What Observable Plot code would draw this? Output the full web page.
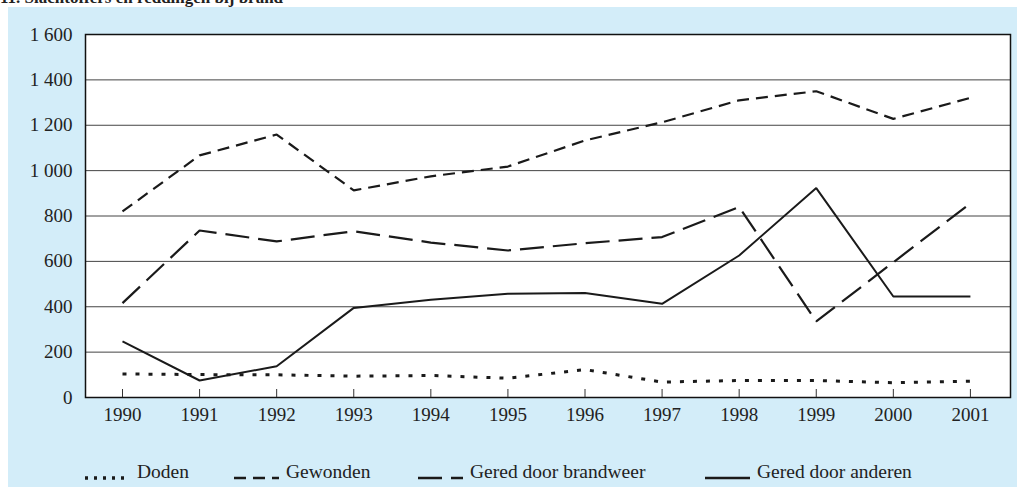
<!DOCTYPE html>
<html><head><meta charset="utf-8">
<script src="https://cdn.jsdelivr.net/npm/d3@7"></script>
<script src="https://cdn.jsdelivr.net/npm/@observablehq/plot@0.6"></script>
<style>
body{margin:0;background:#fff;font-family:"Liberation Serif",serif;color:#222;}
#wrap{position:relative;width:1017px;height:487px;overflow:hidden;}
#panel{position:absolute;left:8px;top:7px;width:1009px;height:480px;background:#d3edf9;}
#title{position:absolute;left:0;top:-12px;line-height:20px;font-weight:bold;font-size:17px;white-space:nowrap;}
#chart{position:absolute;left:0;top:0;}
.item{position:absolute;top:461px;height:22px;display:flex;align-items:center;font-size:19.5px;white-space:nowrap;}
.item svg{margin-right:7px;}
</style></head>
<body>
<div id="wrap">
  <div id="panel"></div>
  <div id="title">11. Slachtoffers en reddingen bij brand</div>
  <div id="chart"></div>
  <div id="legend"></div>
</div>
<script>
const years = [1990,1991,1992,1993,1994,1995,1996,1997,1998,1999,2000,2001];
const doden = [104,101,100,94,97,85,123,68,75,75,65,72];
const gewonden = [820,1067,1159,913,975,1018,1133,1213,1310,1350,1228,1321];
const geredBrandweer = [416,736,688,733,683,648,680,707,840,335,596,856];
const geredAnderen = [247,75,138,395,431,457,461,413,626,923,445,445];
const yTicks = [0,200,400,600,800,1000,1200,1400,1600];

const seriesInfo = [
  {name:"Doden", values:doden, dash:"4,9", width:3},
  {name:"Gewonden", values:gewonden, dash:"12,7", width:2.2},
  {name:"Gered door brandweer", values:geredBrandweer, dash:"24,9", width:2.2},
  {name:"Gered door anderen", values:geredAnderen, dash:null, width:2}
];
const legendLeft = [85,234,418,705];

const fmt = d => d3.format(",")(d).replace(/,/g, " ");

const marks = [
  Plot.frame({fill:"white", stroke:"none"}),
  Plot.ruleY(yTicks.slice(1,-1), {stroke:"#444", strokeWidth:1}),
  Plot.frame({stroke:"#111", strokeWidth:1.5}),
  Plot.axisY({ticks:yTicks, tickSize:0, tickPadding:13, tickFormat:fmt, fontSize:19, label:null}),
  Plot.axisX({ticks:years, tickSize:8, dy:-8, tickFormat:()=>"", stroke:"#333", label:null}),
  Plot.axisX({ticks:years, tickSize:0, tickPadding:10, tickFormat:d=>String(d), fontSize:19, label:null})
];
for (const s of seriesInfo) {
  const data = years.map((y,i)=>({year:y, value:s.values[i]}));
  marks.push(Plot.line(data, {x:"year", y:"value", stroke:"#1a1a1a", strokeWidth:s.width, strokeDasharray:s.dash ?? undefined, strokeLinecap:"butt", strokeLinejoin:"miter"}));
}

const chart = Plot.plot({
  width:1017, height:487,
  marginLeft:85, marginRight:7, marginTop:34, marginBottom:90,
  style:{background:"transparent", fontFamily:"'Liberation Serif', serif", fontSize:"19px", color:"#222"},
  x:{domain:[1989.52, 2001.52], axis:null, label:null},
  y:{domain:[0,1600], axis:null, label:null},
  marks
});
document.getElementById("chart").appendChild(chart);

const legend = document.getElementById("legend");
seriesInfo.forEach((s,i)=>{
  const div = document.createElement("div");
  div.className = "item";
  div.style.left = legendLeft[i] + "px";
  const ns = "http://www.w3.org/2000/svg";
  const svg = document.createElementNS(ns,"svg");
  svg.setAttribute("width","45"); svg.setAttribute("height","22");
  const line = document.createElementNS(ns,"line");
  line.setAttribute("x1","0"); line.setAttribute("x2","45");
  line.setAttribute("y1","17"); line.setAttribute("y2","17");
  line.setAttribute("stroke","#1a1a1a");
  line.setAttribute("stroke-width", String(s.width + 0.5));
  if (s.dash) line.setAttribute("stroke-dasharray", i===0 ? "3,6" : s.dash);
  svg.appendChild(line);
  div.appendChild(svg);
  div.appendChild(document.createTextNode(s.name));
  legend.appendChild(div);
});
</script>
</body></html>
